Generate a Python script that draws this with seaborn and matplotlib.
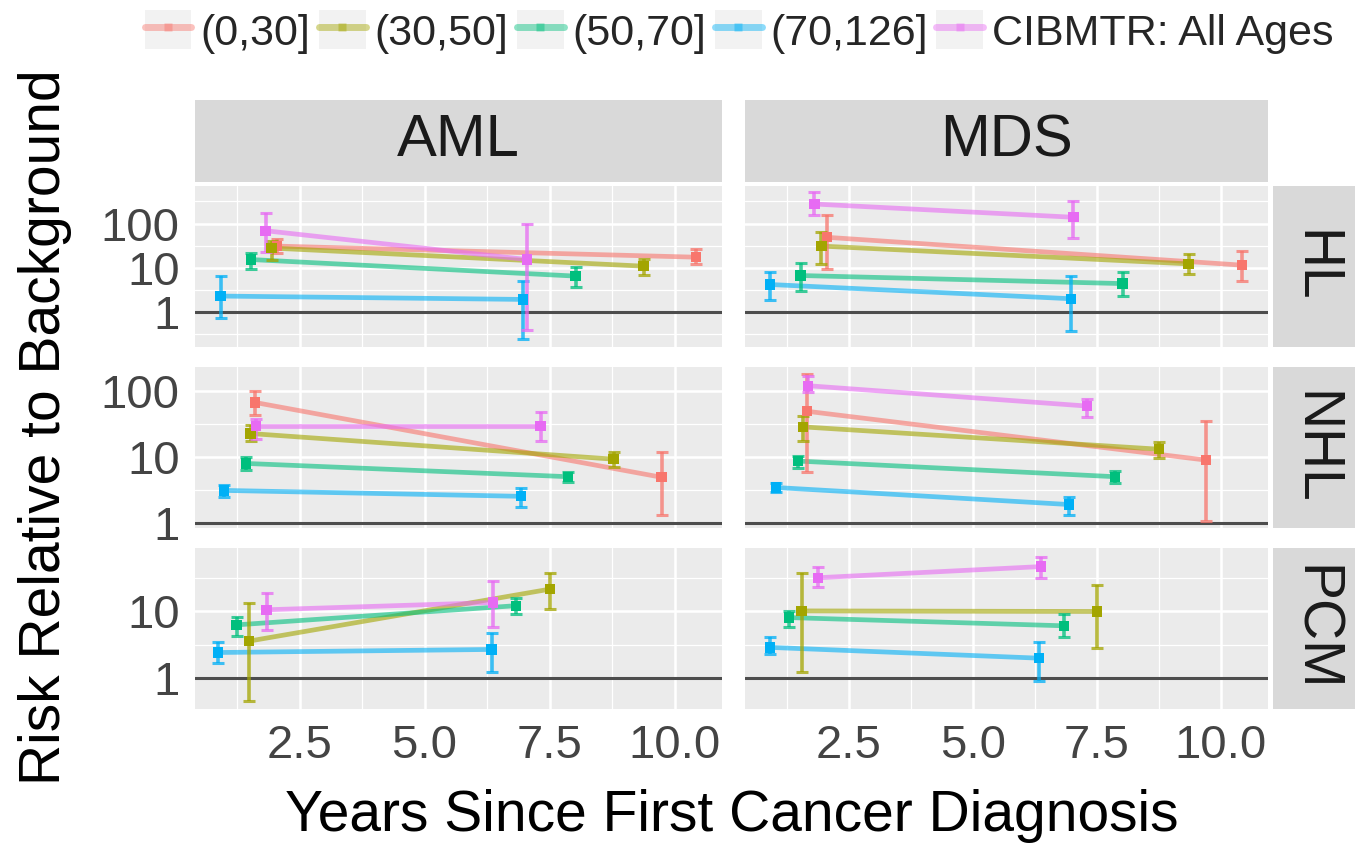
import numpy as np
import pandas as pd
import matplotlib
matplotlib.use("Agg")
import matplotlib.pyplot as plt
import seaborn as sns
from matplotlib.lines import Line2D
from matplotlib.patches import Patch
from matplotlib.ticker import FixedLocator, NullFormatter

# ---------------- data ----------------
groups = ["(0,30]", "(30,50]", "(50,70]", "(70,126]", "CIBMTR: All Ages"]
colors = ["#F8766D", "#A3A500", "#00BF7D", "#00B0F6", "#E76BF3"]
leukemias = ["AML", "MDS"]
first_cancers = ["HL", "NHL", "PCM"]

G0, G1, G2, G3, G4 = groups
pair5 = [G0, G0, G1, G1, G2, G2, G3, G3, G4, G4]
pair4 = [G1, G1, G2, G2, G3, G3, G4, G4]

leukemia = ["AML"] * 10 + ["MDS"] * 10 + ["AML"] * 10 + ["MDS"] * 10 + ["AML"] * 8 + ["MDS"] * 8
first_cancer = ["HL"] * 20 + ["NHL"] * 20 + ["PCM"] * 16
group = pair5 * 4 + pair4 * 2

years = [
    2.05, 10.43, 1.94, 9.38, 1.53, 8.02, 0.92, 6.97, 1.82, 7.05,   # AML / HL
    2.06, 10.42, 1.95, 9.35, 1.53, 8.02, 0.91, 6.98, 1.81, 7.03,   # MDS / HL
    1.61, 9.74, 1.52, 8.78, 1.43, 7.87, 0.99, 6.93, 1.63, 7.32,    # AML / NHL
    1.66, 9.70, 1.58, 8.76, 1.48, 7.86, 1.03, 6.94, 1.68, 7.30,    # MDS / NHL
    1.49, 7.51, 1.24, 6.83, 0.87, 6.34, 1.84, 6.37,                # AML / PCM
    1.55, 7.51, 1.30, 6.84, 0.91, 6.33, 1.88, 6.38,                # MDS / PCM
]
risk = [
    31, 17.4, 28, 10.9, 15.4, 6.5, 2.3, 1.93, 69, 15.4,
    49, 11.5, 31, 12.3, 6.7, 4.4, 4.2, 2.0, 277, 139,
    68, 5.0, 23, 9.4, 8.1, 5.1, 3.16, 2.57, 30, 30,
    50, 9.1, 29, 13.3, 8.8, 5.1, 3.5, 1.93, 122, 60,
    3.6, 21.6, 6.3, 12.2, 2.43, 2.7, 10.6, 13.6,
    10.2, 10.0, 8.1, 6.1, 2.9, 2.0, 32, 47,
]
lower = [
    22, 12, 15, 7, 9.2, 3.7, 0.74, 0.24, 23, 0.39,
    9.6, 5.0, 12, 7.1, 3.0, 2.3, 1.9, 0.37, 155, 48,
    44, 1.36, 18, 7.2, 6.4, 4.3, 2.5, 1.8, 19, 18,
    6.1, 1.1, 18, 9.7, 7.0, 4.1, 3.0, 1.36, 97, 41,
    0.46, 10.8, 4.3, 9.1, 1.7, 1.26, 5.2, 5.9,
    1.26, 2.8, 5.8, 4.2, 2.3, 0.9, 23, 32,
]
upper = [
    44, 26, 41, 16, 22, 10.4, 6.5, 5.0, 170, 98,
    160, 24.5, 65, 21, 13, 8.1, 8.1, 6.5, 516, 330,
    102, 12.2, 31, 12.2, 10.2, 6.1, 3.8, 3.4, 38, 48,
    182, 36, 43, 17, 10.6, 6.2, 4.1, 2.5, 172, 77,
    13.6, 38, 8.3, 15.8, 3.5, 4.8, 18.6, 29,
    38, 25, 10.2, 9.3, 4.1, 3.5, 47, 66,
]

x_ticks = [2.5, 5.0, 7.5, 10.0]
x_tick_labels = ["2.5", "5.0", "7.5", "10.0"]
y_ticks = [1, 10, 100]
y_tick_labels = ["1", "10", "100"]

df = pd.DataFrame(dict(leukemia=leukemia, first_cancer=first_cancer, group=group,
                       years=years, risk=risk, lower=lower, upper=upper))
palette = dict(zip(groups, colors))

# ---------------- style ----------------
sns.set_theme(style="darkgrid", rc={
    "axes.facecolor": "#EBEBEB",
    "grid.color": "white",
    "axes.edgecolor": "none",
})
plt.rcParams["font.family"] = ["Liberation Sans", "DejaVu Sans"]

W, H = 1365, 846
fig = plt.figure(figsize=(W / 100, H / 100), dpi=100)


def frac(x0, y0, x1, y1):
    return [x0 / W, 1 - y1 / H, (x1 - x0) / W, (y1 - y0) / H]


col_x = [(195, 722), (745, 1268)]
row_y = [(186, 347), (367, 528), (548, 709)]
ylims = [(10 ** -0.79, 10 ** 2.85), (10 ** -0.07, 10 ** 2.37), (10 ** -0.46, 10 ** 1.95)]
xlim = (0.41, 10.95)
strip_col = "#D9D9D9"

for r, fc in enumerate(first_cancers):
    for c, lk in enumerate(leukemias):
        ax = fig.add_axes(frac(col_x[c][0], row_y[r][0], col_x[c][1], row_y[r][1]))
        sub = df[(df.leukemia == lk) & (df.first_cancer == fc)]
        ax.set_yscale("log")
        ax.axhline(1, color="#4D4D4D", lw=2.2, zorder=1.5)
        for g in groups:
            s = sub[sub.group == g]
            if s.empty:
                continue
            col = palette[g]
            sns.lineplot(data=s, x="years", y="risk", color=col, lw=3.4, alpha=0.6,
                         estimator=None, sort=True, ax=ax, legend=False, zorder=3)
            ax.errorbar(s.years, s.risk,
                        yerr=[s.risk - s.lower, s.upper - s.risk],
                        fmt="none", ecolor=col, elinewidth=2.6, capsize=4.5,
                        capthick=2.2, alpha=0.75, zorder=4)
            sns.scatterplot(data=s, x="years", y="risk", color=col, marker="s", s=55,
                            edgecolor="none", ax=ax, legend=False, zorder=5)
        ax.set_xlim(*xlim)
        ax.set_ylim(*ylims[r])
        ax.xaxis.set_major_locator(FixedLocator(x_ticks))
        ax.xaxis.set_minor_locator(FixedLocator([1.25, 3.75, 6.25, 8.75]))
        ax.yaxis.set_major_locator(FixedLocator(y_ticks))
        ax.yaxis.set_minor_locator(FixedLocator([10 ** -0.5, 10 ** 0.5, 10 ** 1.5, 10 ** 2.5]))
        ax.yaxis.set_minor_formatter(NullFormatter())
        ax.xaxis.set_minor_formatter(NullFormatter())
        ax.grid(which="major", color="white", lw=1.8)
        ax.grid(which="minor", color="white", lw=0.9)
        ax.set_xlabel("")
        ax.set_ylabel("")
        ax.tick_params(which="minor", length=0)
        ax.tick_params(which="major", length=7, width=1.5, color="#333333",
                       labelsize=34, labelcolor="#444444", pad=4)
        if c == 0:
            ax.set_yticklabels(y_tick_labels)
        else:
            ax.tick_params(axis="y", which="major", length=0, labelleft=False)
        if r == len(first_cancers) - 1:
            ax.set_xticklabels(x_tick_labels)
        else:
            ax.tick_params(axis="x", which="major", length=0, labelbottom=False)
        for sp in ax.spines.values():
            sp.set_visible(False)

        # row strip
        if c == 1:
            sax = fig.add_axes(frac(1273, row_y[r][0], 1355, row_y[r][1]))
            sax.set_facecolor(strip_col)
            sax.set_xticks([]); sax.set_yticks([])
            sax.grid(False)
            for sp in sax.spines.values():
                sp.set_visible(False)
            sax.text(0.5, 0.5, fc, rotation=-90, ha="center", va="center",
                     fontsize=41, color="#1A1A1A", transform=sax.transAxes)

# column strips
for c, lk in enumerate(leukemias):
    sax = fig.add_axes(frac(col_x[c][0], 100, col_x[c][1], 182))
    sax.set_facecolor(strip_col)
    sax.set_xticks([]); sax.set_yticks([])
    sax.grid(False)
    for sp in sax.spines.values():
        sp.set_visible(False)
    sax.text(0.5, 0.5, lk, ha="center", va="center", fontsize=43,
             color="#1A1A1A", transform=sax.transAxes)

# axis titles
fig.text(45 / W, 1 - 427 / H, "Risk Relative to Background", rotation=90,
         ha="center", va="center", fontsize=41, color="black")
fig.text(732 / W, 1 - 816 / H, "Years Since First Cancer Diagnosis",
         ha="center", va="center", fontsize=41, color="black")

# legend
handles = []
for g in groups:
    handles.append((Patch(facecolor="#F2F2F2", edgecolor="none"),
                    Line2D([], [], color=palette[g], lw=5, alpha=0.45, marker="s",
                           markersize=6, markerfacecolor=palette[g],
                           markeredgecolor="none")))
fig.legend(handles, groups, loc="center", bbox_to_anchor=(739 / W, 1 - 32 / H),
           ncol=5, frameon=False, fontsize=31, handlelength=1.09, handleheight=1.02,
           handletextpad=0.2, columnspacing=0.2, borderpad=0)

fig.savefig("out.png", dpi=100)
